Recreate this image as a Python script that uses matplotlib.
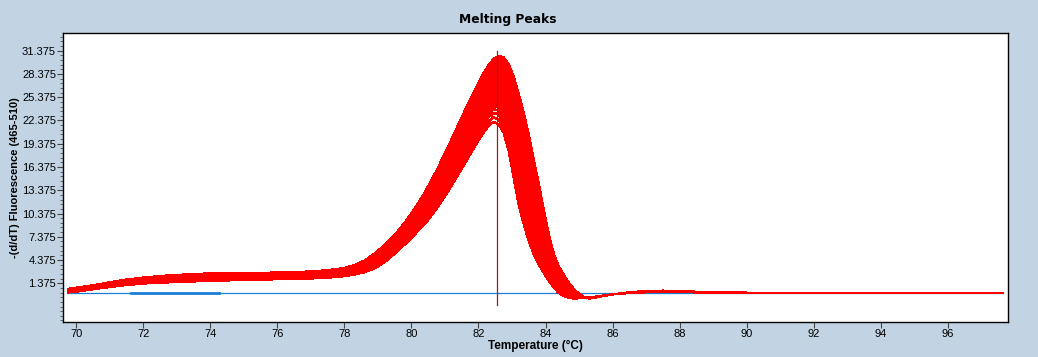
import matplotlib
matplotlib.use('Agg')
import matplotlib.pyplot as plt
from matplotlib.ticker import FixedLocator, MultipleLocator
import numpy as np

# temperature grid (°C)
temps = [69.76, 70.0, 70.5, 71.0, 71.5, 72.0, 72.5, 73.0, 73.5, 74.0, 75.0, 76.0,
         76.5, 77.0, 77.5, 78.0, 78.3, 78.6, 78.9, 79.2, 79.5, 79.8, 80.1, 80.4,
         80.7, 81.0, 81.3, 81.6, 81.9, 82.1, 82.3, 82.45, 82.6, 82.75, 82.9, 83.05,
         83.2, 83.35, 83.5, 83.65, 83.8, 83.95, 84.1, 84.25, 84.4, 84.55, 84.7,
         84.85, 85.0, 85.15, 85.3, 85.5, 85.8, 86.1, 86.5, 87.0, 87.5, 88.0, 88.5,
         89.0, 90.0, 92.0, 94.0, 96.0, 97.64]

# lowest and tallest melting peak curves, -(d/dT) fluorescence
low_curve = [0.2, 0.3, 0.6, 0.9, 1.15, 1.35, 1.45, 1.55, 1.62, 1.7, 1.8, 1.9,
             1.95, 2.0, 2.1, 2.3, 2.5, 2.8, 3.3, 4.1, 5.2, 6.4, 7.7, 9.0,
             10.7, 12.6, 14.7, 16.9, 19.1, 20.5, 21.7, 22.2, 21.9, 20.8, 18.5, 15.0,
             11.5, 9.0, 6.8, 5.1, 3.8, 2.7, 1.7, 0.8, 0.1, -0.3, -0.5,
             -0.6, -0.55, -0.5, -0.45, -0.35, -0.15, 0.0, 0.12, 0.22, 0.28, 0.26, 0.2,
             0.17, 0.16, 0.16, 0.16, 0.16, 0.16]
high_curve = [0.65, 0.8, 1.1, 1.5, 1.85, 2.1, 2.3, 2.45, 2.55, 2.65, 2.7, 2.75,
              2.8, 2.9, 3.05, 3.35, 3.7, 4.3, 5.2, 6.3, 7.6, 9.2, 11.0, 13.1,
              15.5, 18.1, 20.9, 23.7, 26.4, 28.1, 29.5, 30.3, 30.7, 30.5, 29.6, 28.0,
              25.8, 23.3, 20.5, 17.3, 14.1, 10.8, 7.6, 5.1, 3.5, 2.4, 1.4,
              0.6, 0.0, -0.4, -0.6, -0.45, -0.2, 0.0, 0.2, 0.38, 0.42, 0.38, 0.28,
              0.2, 0.16, 0.16, 0.16, 0.16, 0.16]

# peak heights of the individual samples
peak_heights = [22.2, 22.8, 23.4, 23.9, 24.3, 24.6, 24.9, 25.1, 25.3, 25.5, 25.7,
                25.9, 26.0, 26.2, 26.4, 26.5, 26.7, 26.8, 27.0, 27.1, 27.3, 27.4,
                27.6, 27.7, 27.8, 28.0, 28.1, 28.2, 28.4, 28.5, 28.6, 28.7, 28.9,
                29.0, 29.1, 29.2, 29.4, 29.5, 29.6, 29.7, 29.9, 30.0, 30.1, 30.3,
                30.5, 30.7]

# baseline (blue) and cursor line
baseline_temps = [69.76, 97.64]
baseline_value = 0.16
baseline_thick = [71.64, 74.27]
cursor_temp = 82.55
cursor_range = [-1.4, 31.4]

y_ticks = [1.375, 4.375, 7.375, 10.375, 13.375, 16.375, 19.375, 22.375,
           25.375, 28.375, 31.375]
x_ticks = list(range(70, 97, 2))

bg = '#c2d4e4'
lab_font = 'Liberation Sans'

fig = plt.figure(figsize=(10.38, 3.57), dpi=100, facecolor=bg)
ax = fig.add_axes([63/1038, 35/357, 945/1038, 289/357])
ax.set_facecolor('white')

ax.plot(baseline_temps, [baseline_value]*2, color='#1b7fd6', lw=0.9)
ax.plot(baseline_thick, [baseline_value]*2, color='#1b7fd6', lw=2.0)

low = np.array(low_curve)
high = np.array(high_curve)
for p in peak_heights:
    w = (p - peak_heights[0]) / (peak_heights[-1] - peak_heights[0])
    ax.plot(temps, low + w*(high - low), color='red', lw=1.0, antialiased=False)

ax.plot([cursor_temp, cursor_temp], cursor_range, color='#9b1c1c', lw=0.9)

ax.set_xlim(69.61, 97.79)
ax.set_ylim(-3.62, 33.66)
ax.xaxis.set_major_locator(FixedLocator(x_ticks))
ax.yaxis.set_major_locator(FixedLocator(y_ticks))
ax.yaxis.set_minor_locator(MultipleLocator(0.6, offset=0.175))
ax.yaxis.set_major_formatter(lambda v, pos: f'{v:.3f}')
ax.tick_params(axis='both', which='major', length=4, width=0.8, color='#444444',
               labelsize=8, pad=1)
ax.tick_params(axis='y', which='minor', length=2, width=0.7, color='#666666')
for lab in ax.get_xticklabels() + ax.get_yticklabels():
    lab.set_family(lab_font)
for s in ax.spines.values():
    s.set_color('black')
    s.set_linewidth(1.0)

ax.set_xlabel('Temperature (°C)', family=lab_font, fontsize=8.5, fontweight='bold')
ax.xaxis.set_label_coords(0.5, -0.082)
ax.xaxis.label.set_va('center')
ax.set_ylabel('-(d/dT) Fluorescence (465-510)', family=lab_font, fontsize=8,
              fontweight='bold')
ax.yaxis.set_label_coords(-0.0508, 0.5)
ax.yaxis.label.set_va('center')
fig.text(508/1038, 337/357, 'Melting Peaks', ha='center', va='center',
         fontsize=8.8, fontweight='bold')

fig.savefig('out.png', dpi=100, facecolor=bg)
